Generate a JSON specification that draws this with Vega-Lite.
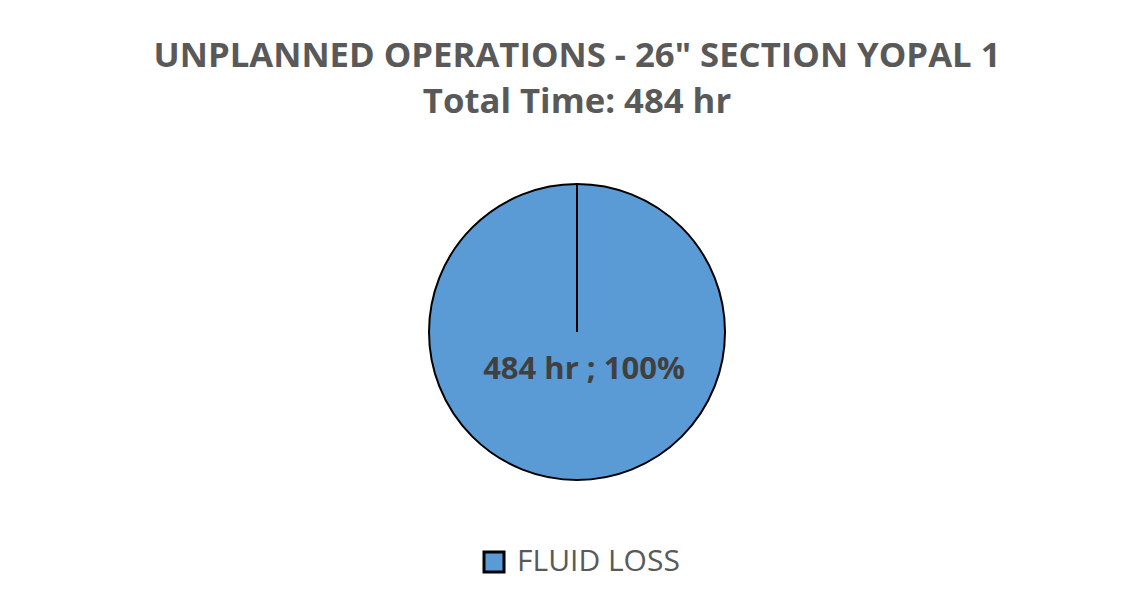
{
  "$schema": "https://vega.github.io/schema/vega-lite/v6.json",
  "width": 1136,
  "height": 296,
  "autosize": {"type": "none"},
  "padding": {"left": 9, "top": 184, "right": 0, "bottom": 123},
  "background": "white",
  "title": {
    "text": "UNPLANNED OPERATIONS - 26\" SECTION YOPAL 1",
    "subtitle": "Total Time: 484 hr",
    "anchor": "middle",
    "frame": "group",
    "font": "Open Sans",
    "fontSize": 34.7,
    "fontWeight": "bold",
    "color": "#595959",
    "subtitleFont": "Open Sans",
    "subtitleFontSize": 34.7,
    "subtitleFontWeight": "bold",
    "subtitleColor": "#595959",
    "subtitlePadding": 12,
    "offset": 59
  },
  "data": {
    "values": [
      {"category": "FLUID LOSS", "hours": 484, "label": "484 hr ; 100%"}
    ]
  },
  "layer": [
    {
      "mark": {"type": "arc", "stroke": "black", "strokeWidth": 2},
      "encoding": {
        "theta": {"field": "hours", "type": "quantitative", "stack": true},
        "color": {
          "field": "category",
          "type": "nominal",
          "scale": {"domain": ["FLUID LOSS"], "range": ["#5B9BD5"]},
          "legend": {
            "title": null,
            "orient": "none",
            "legendX": 470,
            "legendY": 363,
            "padding": 0,
            "symbolType": "square",
            "symbolSize": 400,
            "symbolStrokeColor": "black",
            "symbolStrokeWidth": 3,
            "symbolFillColor": "#5B9BD5",
            "labelFont": "Open Sans",
            "labelFontSize": 30,
            "labelColor": "#595959",
            "labelOffset": 8,
            "labelLimit": 0
          }
        }
      }
    },
    {
      "mark": {
        "type": "text",
        "radius": 38,
        "dx": 7,
        "font": "Open Sans",
        "fontSize": 31,
        "fontWeight": "bold",
        "color": "#404040"
      },
      "encoding": {
        "theta": {"field": "hours", "type": "quantitative", "stack": true},
        "text": {"field": "label", "type": "nominal"}
      }
    },
    {
      "mark": {"type": "rule", "stroke": "black", "strokeWidth": 2},
      "encoding": {
        "x": {"datum": 0, "type": "quantitative", "scale": {"domain": [-1, 1]}, "axis": null},
        "y": {"datum": 0, "type": "quantitative", "scale": {"domain": [-1, 1]}, "axis": null},
        "y2": {"datum": 1}
      }
    }
  ],
  "config": {"view": {"stroke": null}}
}
